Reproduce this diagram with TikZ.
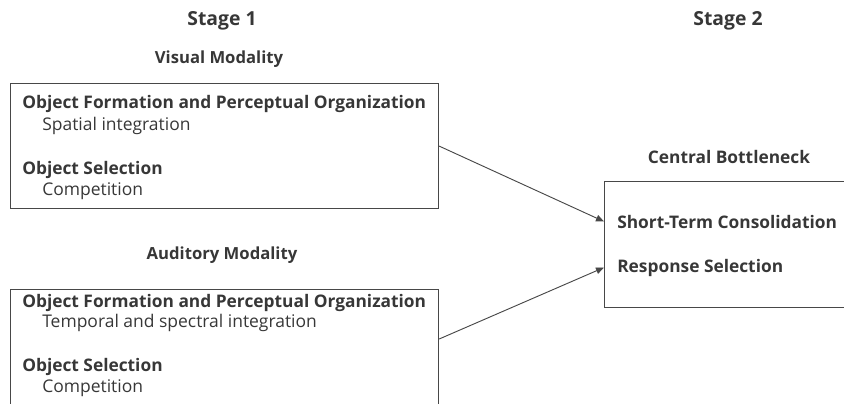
\documentclass[tikz,border=0pt]{standalone}
\usepackage{fontspec}
\setmainfont{Open Sans}
\usetikzlibrary{arrows.meta,positioning,calc}
\definecolor{inkgray}{RGB}{55,55,55}
\definecolor{rulegray}{RGB}{72,72,72}
\tikzset{
  stagelab/.style={font=\fontsize{14.5}{16}\selectfont\bfseries, text=inkgray, anchor=base, inner sep=0pt},
  modlab/.style={font=\fontsize{12.5}{14}\selectfont\bfseries, text=inkgray, anchor=base, inner sep=0pt},
  procbox/.style={draw=rulegray, line width=0.9pt, anchor=north west, inner sep=0pt},
  headtxt/.style={font=\fontsize{13}{15}\selectfont\bfseries, text=inkgray, anchor=base west, inner sep=0pt},
  subtxt/.style={font=\fontsize{13.1}{15}\selectfont, text=inkgray, anchor=base west, inner sep=0pt},
  flow/.style={-{Triangle[length=6pt, width=5pt]}, rulegray, line width=0.7pt},
}
\begin{document}
\begin{tikzpicture}[x=0.75pt, y=-0.75pt]
\clip (0,0) rectangle (844,404);
% titles
\node[stagelab] (st1) at (222,25) {Stage 1};
\node[stagelab] (st2) at (728,25) {Stage 2};
\node[modlab] (vmod) at (219,63) {Visual Modality};
\node[modlab] (amod) at (222,259) {Auditory Modality};
\node[modlab, font=\fontsize{13}{15}\selectfont\bfseries] (cbot) at (729,163) {Central Bottleneck};
% stage 1, visual
\node[procbox, minimum width=321pt, minimum height=93.75pt] (vis) at (10,83) {};
\node[headtxt] (vform) at (22,108) {Object Formation and Perceptual Organization};
\node[subtxt] (vint) at (42,130) {Spatial integration};
\node[headtxt] (vsel) at (22,174) {Object Selection};
\node[subtxt] (vcomp) at (42,195) {Competition};
% stage 1, auditory
\node[procbox, minimum width=321pt, minimum height=120pt] (aud) at (10,289) {};
\node[headtxt] (aform) at (22,307) {Object Formation and Perceptual Organization};
\node[subtxt] (aint) at (42,327) {Temporal and spectral integration};
\node[headtxt] (asel) at (22,371) {Object Selection};
\node[subtxt] (acomp) at (42,392) {Competition};
% stage 2
\node[procbox, minimum width=195pt, minimum height=94.5pt] (cb) at (604,181) {};
\node[headtxt] (stc) at (617,228) {Short-Term Consolidation};
\node[headtxt] (rsel) at (617,272) {Response Selection};
% arrows
\coordinate (audout) at ($(aud.north east)+(0,50)$);
\draw[flow] (vis.east) -- (stc.west -| cb.west);
\draw[flow] (audout) -- (rsel.west -| cb.west);
\end{tikzpicture}
\end{document}
